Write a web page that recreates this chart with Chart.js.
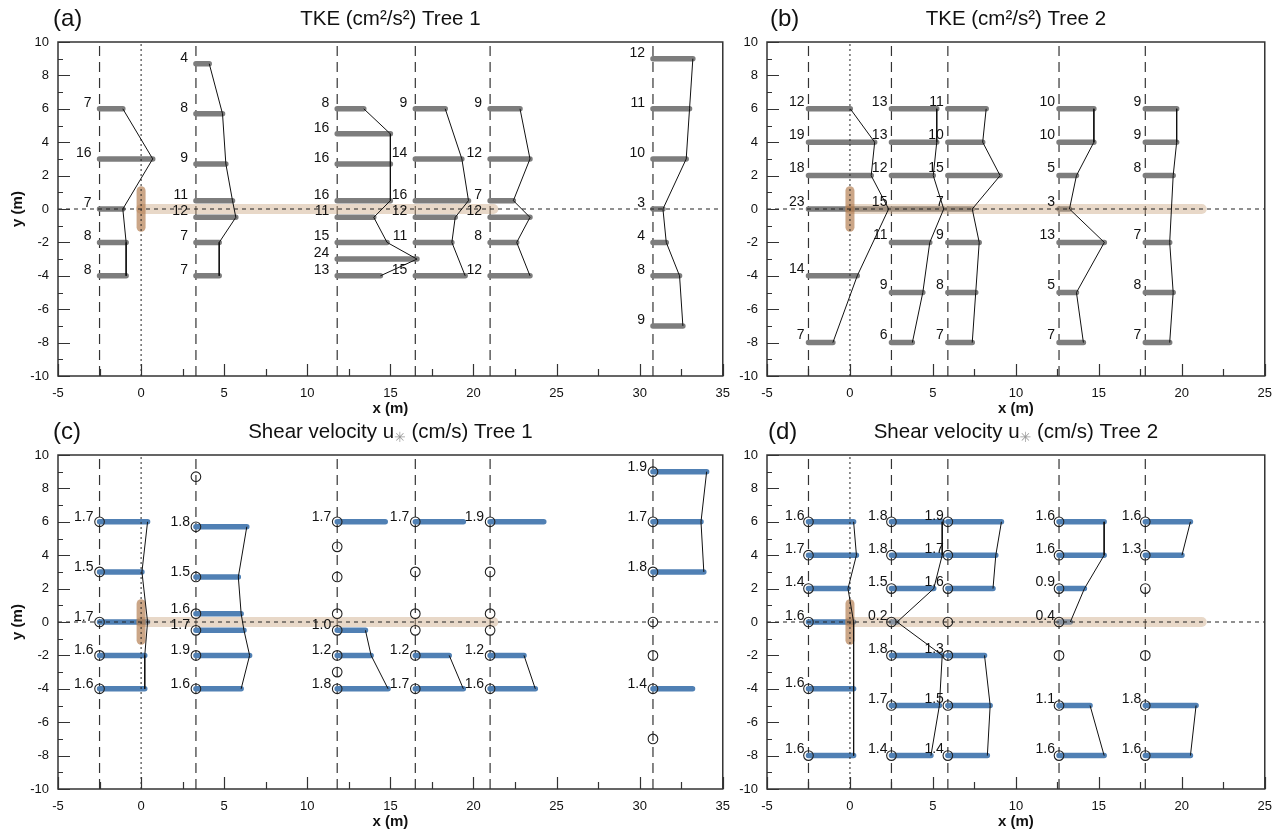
<!DOCTYPE html>
<html>
<head>
<meta charset="utf-8">
<title>TKE and shear velocity profiles</title>
<script src="https://cdn.jsdelivr.net/npm/chart.js@4.4.1/dist/chart.umd.min.js"></script>
<style>
    body { margin: 0; background: #fff; }
    #figure { position: relative; width: 1282px; height: 835px; overflow: hidden; }
    #figure canvas { position: absolute; }
</style>
</head>
<body>
<div id="figure">
    <canvas id="chartA" width="740" height="420" style="left:0;top:0"></canvas>
    <canvas id="chartB" width="552" height="420" style="left:730px;top:0"></canvas>
    <canvas id="chartC" width="740" height="420" style="left:0;top:415px"></canvas>
    <canvas id="chartD" width="552" height="420" style="left:730px;top:415px"></canvas>
</div>
<script>
// measurement stations (x, m) and sampling heights (y, m) for each tree
var tree1Stations = [-2.5, 3.3, 11.8, 16.5, 21.0, 30.8];
var tree2Stations = [-2.5, 2.5, 5.9, 12.6, 17.8];

var tree1Y = [
    [6, 3, 0, -2, -4],
    [8.7, 5.7, 2.7, 0.5, -0.5, -2, -4],
    [6, 4.5, 2.7, 0.5, -0.5, -2, -3, -4],
    [6, 3, 0.5, -0.5, -2, -4],
    [6, 3, 0.5, -0.5, -2, -4],
    [9, 6, 3, 0, -2, -4, -7]
];
var tree2Y = [
    [6, 4, 2, 0, -4, -8],
    [6, 4, 2, 0, -2, -5, -8],
    [6, 4, 2, 0, -2, -5, -8],
    [6, 4, 2, 0, -2, -5, -8],
    [6, 4, 2, -2, -5, -8]
];

// TKE (cm2/s2)
var tke1 = [
    [7, 16, 7, 8, 8],
    [4, 8, 9, 11, 12, 7, 7],
    [8, 16, 16, 16, 11, 15, 24, 13],
    [9, 14, 16, 12, 11, 15],
    [9, 12, 7, 12, 8, 12],
    [12, 11, 10, 3, 4, 8, 9]
];
var tke2 = [
    [12, 19, 18, 23, 14, 7],
    [13, 13, 12, 15, 11, 9, 6],
    [11, 10, 15, 7, 9, 8, 7],
    [10, 10, 5, 3, 13, 5, 7],
    [9, 9, 8, 7, 8, 7]
];

// shear velocity u* (cm/s), null = point without a value
// station 11.8 lists y = -3 last so the profile runs -2 -> -4 directly
var ustar1Y = [
    [6, 3, 0, -2, -4],
    [8.7, 5.7, 2.7, 0.5, -0.5, -2, -4],
    [6, 4.5, 2.7, 0.5, -0.5, -2, -4, -3],
    [6, 3, 0.5, -0.5, -2, -4],
    [6, 3, 0.5, -0.5, -2, -4],
    [9, 6, 3, 0, -2, -4, -7]
];
var ustar1 = [
    [1.7, 1.5, 1.7, 1.6, 1.6],
    [null, 1.8, 1.5, 1.6, 1.7, 1.9, 1.6],
    [1.7, null, null, null, 1.0, 1.2, 1.8, null],
    [1.7, null, null, null, 1.2, 1.7],
    [1.9, null, null, null, 1.2, 1.6],
    [1.9, 1.7, 1.8, null, null, 1.4, null]
];
var ustar2 = [
    [1.6, 1.7, 1.4, 1.6, 1.6, 1.6],
    [1.8, 1.8, 1.5, 0.2, 1.8, 1.7, 1.4],
    [1.9, 1.7, 1.6, null, 1.3, 1.5, 1.4],
    [1.6, 1.6, 0.9, 0.4, null, 1.1, 1.6],
    [1.6, 1.3, null, null, 1.8, 1.6]
];

// tree: trunk extent in y and canopy extent along x
var trunkY = [-1.1, 1.1];
var canopyX = [0, 21.2];

var xTicks1 = [-5, 0, 5, 10, 15, 20, 25, 30, 35];
var xTicks2 = [-5, 0, 5, 10, 15, 20, 25];
var yTicks = [-10, -8, -6, -4, -2, 0, 2, 4, 6, 8, 10];

var FONT = 'Arial, "Liberation Sans", Helvetica, sans-serif';

var panels = [
    {
        id: 'chartA', letter: '(a)', letterX: 53, title: ['TKE (cm\u00b2/s\u00b2) Tree 1'],
        stations: tree1Stations, ys: tree1Y, values: tke1, scale: 0.2, xTicks: xTicks1,
        color: '#7d7d7d', circles: false, digits: 0, gap: 8, rise: 6, yTitle: true,
        padding: {left: 0, right: 15, top: 42, bottom: 0}, yWidth: 58, xHeight: 44
    },
    {
        id: 'chartB', letter: '(b)', letterX: 40, title: ['TKE (cm\u00b2/s\u00b2) Tree 2'],
        stations: tree2Stations, ys: tree2Y, values: tke2, scale: 0.21, xTicks: xTicks2,
        color: '#7d7d7d', circles: false, digits: 0, gap: 4, rise: 7, yTitle: false,
        padding: {left: 0, right: 16, top: 42, bottom: 0}, yWidth: 37, xHeight: 44
    },
    {
        id: 'chartC', letter: '(c)', letterX: 53, title: ['Shear velocity u', '\u2733', ' (cm/s) Tree 1'],
        stations: tree1Stations, ys: ustar1Y, values: ustar1, scale: 1.7, xTicks: xTicks1,
        color: '#5080b4', circles: true, digits: 1, gap: 6, rise: 5, yTitle: true,
        padding: {left: 0, right: 15, top: 40, bottom: 0}, yWidth: 58, xHeight: 46
    },
    {
        id: 'chartD', letter: '(d)', letterX: 38, title: ['Shear velocity u', '\u2733', ' (cm/s) Tree 2'],
        stations: tree2Stations, ys: tree2Y, values: ustar2, scale: 1.7, xTicks: xTicks2,
        color: '#5080b4', circles: true, digits: 1, gap: 4, rise: 6, yTitle: false,
        padding: {left: 0, right: 16, top: 40, bottom: 0}, yWidth: 37, xHeight: 46
    }
];

var gap = function() {
    return {x: null, y: null};
};

var lineSet = function(data, color, width, extra) {
    var set = {
        data: data,
        showLine: true,
        borderColor: color,
        borderWidth: width,
        pointRadius: 0,
        spanGaps: false
    };
    for (var k in extra) {
        set[k] = extra[k];
    }
    return set;
};

var buildDatasets = function(p) {
    var xMax = p.xTicks[p.xTicks.length - 1];
    var stationLines = [], bars = [], profile = [], circles = [];
    p.stations.forEach(function(st, i) {
        stationLines.push({x: st, y: -10}, {x: st, y: 10}, gap());
        var ys = p.ys[i], vals = p.values[i];
        for (var j = 0; j < ys.length; j++) {
            if (p.circles) {
                circles.push({x: st, y: ys[j]});
            }
            if (vals[j] === null) {
                profile.push(gap());
                continue;
            }
            var end = st + vals[j] * p.scale;
            bars.push({x: st, y: ys[j]}, {x: end, y: ys[j]}, gap());
            profile.push({x: end, y: ys[j]});
        }
        profile.push(gap());
    });

    // back to front
    var sets = [
        lineSet(stationLines, '#333', 1.2, {borderDash: [10, 6]}),
        lineSet(bars, p.color, 5.5, {borderCapStyle: 'round'}),
        lineSet([{x: canopyX[0], y: 0}, {x: canopyX[1], y: 0}], 'rgba(205,168,132,0.45)', 10, {borderCapStyle: 'round'}),
        lineSet([{x: 0, y: trunkY[0]}, {x: 0, y: trunkY[1]}], 'rgba(175,118,70,0.65)', 9, {borderCapStyle: 'round'}),
        lineSet([{x: 0, y: -10}, {x: 0, y: 10}], '#222', 1, {borderDash: [2, 3]}),
        lineSet([{x: -5, y: 0}, {x: xMax, y: 0}], '#222', 1, {borderDash: [4, 4]}),
        lineSet(profile, '#111', 1, {})
    ];
    if (p.circles) {
        sets.push({
            data: circles,
            showLine: false,
            pointRadius: 4.8,
            pointBorderWidth: 1.1,
            pointBorderColor: '#222',
            pointBackgroundColor: 'rgba(255,255,255,0)'
        });
    }
    sets.forEach(function(s, i) {
        s.order = -i;
    });
    return sets;
};

var decorations = {
    id: 'decorations',
    afterDraw: function(chart, args, opts) {
        var p = opts.panel;
        var ctx = chart.ctx, area = chart.chartArea;
        var xs = chart.scales.x, ys = chart.scales.y;
        var xMax = p.xTicks[p.xTicks.length - 1];
        ctx.save();

        // inward ticks, minor ones shorter
        ctx.strokeStyle = '#333';
        ctx.lineWidth = 1.2;
        ctx.beginPath();
        for (var v = -10; v <= 10; v += 1) {
            var py = Math.round(ys.getPixelForValue(v)) + 0.5;
            ctx.moveTo(area.left, py);
            ctx.lineTo(area.left + (v % 2 === 0 ? 12 : 5), py);
        }
        for (var u = -5; u <= xMax; u += 2.5) {
            var px = Math.round(xs.getPixelForValue(u)) + 0.5;
            ctx.moveTo(px, area.bottom);
            ctx.lineTo(px, area.bottom - (u % 5 === 0 ? 12 : 7));
        }
        ctx.stroke();

        ctx.lineWidth = 1.5;
        ctx.strokeRect(area.left, area.top, area.right - area.left, area.bottom - area.top);

        // value labels left of each station
        ctx.fillStyle = '#111';
        ctx.font = '14px ' + FONT;
        ctx.textAlign = 'right';
        ctx.textBaseline = 'middle';
        p.stations.forEach(function(st, i) {
            var sx = xs.getPixelForValue(st);
            p.ys[i].forEach(function(y, j) {
                var val = p.values[i][j];
                if (val === null) {
                    return;
                }
                ctx.fillText(val.toFixed(p.digits), sx - p.gap, ys.getPixelForValue(y) - p.rise);
            });
        });

        // axis titles
        ctx.font = 'bold 15px ' + FONT;
        ctx.textAlign = 'center';
        ctx.fillText('x (m)', (area.left + area.right) / 2, area.bottom + 33);
        if (p.yTitle) {
            ctx.save();
            ctx.translate(18, (area.top + area.bottom) / 2);
            ctx.rotate(-Math.PI / 2);
            ctx.fillText('y (m)', 0, 0);
            ctx.restore();
        }

        // panel letter and title
        var cy = area.top - 23;
        ctx.font = '24px ' + FONT;
        ctx.textAlign = 'left';
        ctx.fillText(p.letter, p.letterX, cy);

        var mainFont = '20.5px ' + FONT;
        var subFont = '14px "DejaVu Sans", ' + FONT;
        var widths = p.title.map(function(t, k) {
            ctx.font = k === 1 ? subFont : mainFont;
            return ctx.measureText(t).width;
        });
        var total = widths.reduce(function(a, b) { return a + b; }, 0);
        var tx = (area.left + area.right) / 2 - total / 2;
        p.title.forEach(function(t, k) {
            ctx.font = k === 1 ? subFont : mainFont;
            ctx.fillStyle = k === 1 ? '#999' : '#111';
            ctx.fillText(t, tx, k === 1 ? cy + 6 : cy);
            tx += widths[k];
        });
        ctx.restore();
    }
};

panels.forEach(function(p) {
    var tickFont = {family: FONT, size: 13};
    new Chart(document.getElementById(p.id), {
        type: 'scatter',
        data: {datasets: buildDatasets(p)},
        plugins: [decorations],
        options: {
            responsive: false,
            animation: false,
            events: [],
            layout: {padding: p.padding},
            plugins: {
                legend: {display: false},
                tooltip: {enabled: false},
                decorations: {panel: p}
            },
            scales: {
                x: {
                    type: 'linear',
                    min: p.xTicks[0],
                    max: p.xTicks[p.xTicks.length - 1],
                    afterBuildTicks: function(s) {
                        s.ticks = p.xTicks.map(function(v) { return {value: v}; });
                    },
                    afterFit: function(s) { s.height = p.xHeight; },
                    grid: {display: false, drawTicks: false},
                    border: {display: false},
                    ticks: {color: '#111', font: tickFont, padding: 10, maxRotation: 0, autoSkip: false}
                },
                y: {
                    type: 'linear',
                    min: -10,
                    max: 10,
                    afterBuildTicks: function(s) {
                        s.ticks = yTicks.map(function(v) { return {value: v}; });
                    },
                    afterFit: function(s) { s.width = p.yWidth; },
                    grid: {display: false, drawTicks: false},
                    border: {display: false},
                    ticks: {color: '#111', font: tickFont, padding: 9, autoSkip: false}
                }
            }
        }
    });
});
</script>
</body>
</html>
